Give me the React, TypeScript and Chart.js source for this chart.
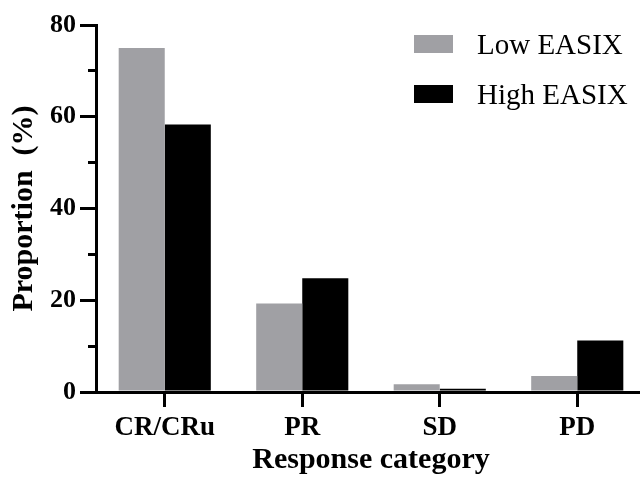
import React, { useEffect, useRef } from 'react';
import { Chart, registerables } from 'chart.js';

Chart.register(...registerables);

const categories = ['CR/CRu', 'PR', 'SD', 'PD'];
const seriesLabels = ['Low EASIX', 'High EASIX'];
const lowEasix = [75, 19.3, 1.7, 3.5];
const highEasix = [58.3, 24.8, 0.7, 11.2];
const seriesColors = ['#a0a0a4', '#000000'];
const yMin = 0;
const yMax = 80;
const yStep = 20;
const yMinorTicks = [10, 30, 50, 70];

const FAMILY = "'Liberation Serif', 'Times New Roman', serif";

const alignPx = (p: number, w: number) => Math.round(p - w / 2) + w / 2;

const minorTickPlugin = {
  id: 'minorTicks',
  afterDraw(chart: any) {
    const ys = chart.scales.y;
    const ctx = chart.ctx;
    ctx.save();
    ctx.strokeStyle = '#000';
    ctx.lineWidth = 3;
    yMinorTicks.forEach((v) => {
      const py = alignPx(ys.getPixelForValue(v), 3);
      ctx.beginPath();
      ctx.moveTo(ys.right - 8, py);
      ctx.lineTo(ys.right, py);
      ctx.stroke();
    });
    ctx.restore();
  },
};

const legendPlugin = {
  id: 'customLegend',
  afterDraw(chart: any) {
    const ctx = chart.ctx;
    ctx.save();
    chart.data.datasets.forEach((ds: any, i: number) => {
      const top = 35 + i * 50;
      ctx.fillStyle = ds.backgroundColor;
      ctx.fillRect(414, top, 39, 18);
      ctx.fillStyle = '#000';
      ctx.font = `29px ${FAMILY}`;
      ctx.textBaseline = 'alphabetic';
      ctx.textAlign = 'left';
      ctx.fillText(ds.label, 477, top + 18.5);
    });
    ctx.restore();
  },
};

export default function App() {
  const canvasRef = useRef<HTMLCanvasElement | null>(null);

  useEffect(() => {
    if (!canvasRef.current) return;
    const chart = new Chart(canvasRef.current, {
      type: 'bar',
      data: {
        labels: categories,
        datasets: [
          {
            label: seriesLabels[0],
            data: lowEasix,
            backgroundColor: seriesColors[0],
            borderWidth: 0,
            categoryPercentage: 0.67,
            barPercentage: 1.0,
          },
          {
            label: seriesLabels[1],
            data: highEasix,
            backgroundColor: seriesColors[1],
            borderWidth: 0,
            categoryPercentage: 0.67,
            barPercentage: 1.0,
          },
        ],
      },
      options: {
        animation: false,
        responsive: true,
        maintainAspectRatio: false,
        layout: { padding: { top: 25, right: 4, left: 0, bottom: 0 } },
        plugins: {
          legend: { display: false },
          tooltip: { enabled: false },
        },
        scales: {
          x: {
            grid: {
              display: true,
              drawOnChartArea: false,
              offset: false,
              color: '#000',
              lineWidth: 3,
              tickLength: 15,
            },
            border: { display: true, color: '#000', width: 3 },
            ticks: {
              color: '#000',
              font: { family: FAMILY, size: 27, weight: 'bold' },
              padding: 5,
              maxRotation: 0,
              autoSkip: false,
            },
            title: {
              display: true,
              text: 'Response category',
              color: '#000',
              font: { family: FAMILY, size: 30, weight: 'bold' },
              padding: { top: 0, bottom: 11 },
            },
            afterFit: (s: any) => {
              s.height = 97;
            },
          },
          y: {
            min: yMin,
            max: yMax,
            ticks: {
              stepSize: yStep,
              color: '#000',
              font: { family: FAMILY, size: 26, weight: 'bold' },
              padding: 4,
            },
            grid: {
              drawOnChartArea: false,
              color: '#000',
              lineWidth: 3,
              tickLength: 16,
            },
            border: { display: true, color: '#000', width: 3 },
            title: {
              display: true,
              text: 'Proportion  (%)',
              color: '#000',
              font: { family: FAMILY, size: 30, weight: 'bold' },
              padding: { top: 6, bottom: 0 },
            },
            afterFit: (s: any) => {
              s.width = 96;
            },
          },
        },
      } as any,
      plugins: [minorTickPlugin, legendPlugin],
    });
    return () => chart.destroy();
  }, []);

  return (
    <div
      style={{
        position: 'fixed',
        left: 0,
        top: 0,
        width: 640,
        height: 489,
        overflow: 'hidden',
        background: '#fff',
      }}
    >
      <div style={{ position: 'relative', width: 650, height: 489 }}>
        <canvas ref={canvasRef} />
      </div>
    </div>
  );
}
